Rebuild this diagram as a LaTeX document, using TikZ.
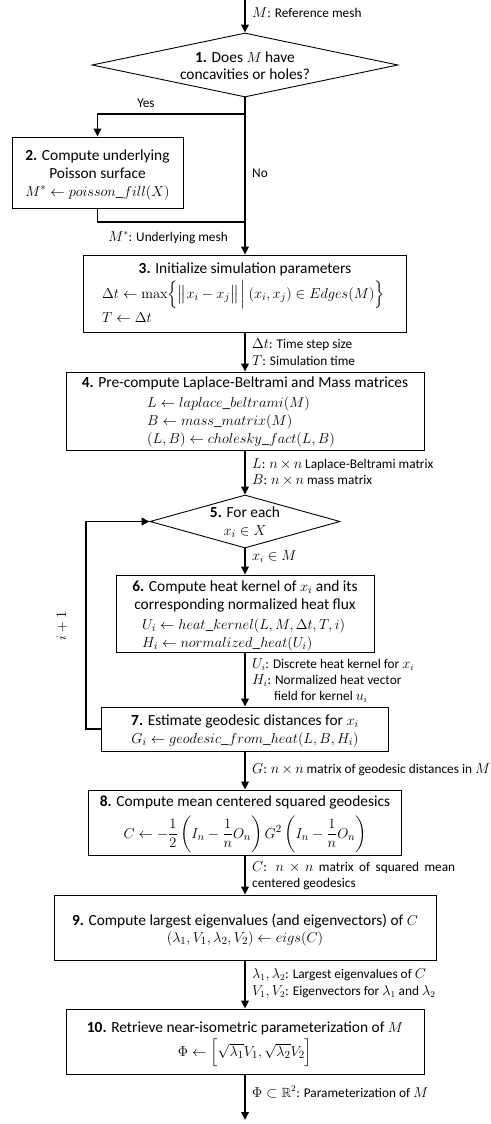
\documentclass[tikz,border=0pt]{standalone}
\usepackage{amsmath,amssymb}
\usepackage[no-math]{fontspec}
\setmainfont{Carlito}
\usetikzlibrary{arrows.meta,shapes.geometric}
\newcommand{\lblfont}{\fontsize{13.3}{16}\selectfont\medmuskip=3mu plus 2mu minus 2mu\relax}
\begin{document}
\begin{tikzpicture}[x=1pt,y=-1pt,
  box/.style={draw,line width=0.9pt,inner sep=0pt},
  dec/.style={draw,diamond,line width=0.9pt,inner sep=0pt},
  flow/.style={line width=1.7pt,-{Triangle[length=8pt,width=7.5pt]}},
  wire/.style={line width=1.7pt},
  mt/.style={inner sep=0pt,anchor=base,font=\fontsize{15.4}{18}\selectfont},
  ml/.style={mt,anchor=base west},
  lb/.style={inner sep=0pt,anchor=base west,font=\lblfont},
]
\useasboundingbox (0,0) rectangle (490,1124);
% shapes
\node[dec,minimum width=306pt,minimum height=64pt] (d1) at (245,65) {};
\node[box,minimum width=171pt,minimum height=71pt] (b2) at (97.5,172.5) {};
\node[box,minimum width=323pt,minimum height=77pt] (b3) at (245,293.5) {};
\node[box,minimum width=358pt,minimum height=78pt] (b4) at (245,411) {};
\node[dec,minimum width=190pt,minimum height=53pt] (d5) at (245,521.5) {};
\node[box,minimum width=258pt,minimum height=77pt] (b6) at (245,613.5) {};
\node[box,minimum width=287pt,minimum height=44pt] (b7) at (245,729) {};
\node[box,minimum width=313pt,minimum height=65pt] (b8) at (245,822.5) {};
\node[box,minimum width=382pt,minimum height=65pt] (b9) at (245,927.5) {};
\node[box,minimum width=358pt,minimum height=65pt] (b10) at (245,1041.5) {};
% connectors
\coordinate (in) at (245,0);
\coordinate (yes) at (245,114);
\coordinate (join) at (245,222);
\coordinate (lp) at (86,729);
\coordinate (out) at (245,1120);
\draw[flow] (in) -- (d1.north);
\draw[flow] (d1.south) -- (b3.north);
\draw[flow] (yes) -| (b2.north);
\draw[wire] (b2.south) |- (join);
\draw[flow] (b3.south) -- (b4.north);
\draw[flow] (b4.south) -- (d5.north);
\draw[flow] (d5.south) -- (b6.north);
\draw[flow] (b6.south) -- (b7.north);
\draw[flow] (b7.west) -- (lp) |- (d5.west);
\draw[flow] (b7.south) -- (b8.north);
\draw[flow] (b8.south) -- (b9.north);
\draw[flow] (b9.south) -- (b10.north);
\draw[flow] (b10.south) -- (out);
% texts
\node[lb] (t0) at (252,18) {$M$: Reference mesh};
\node[mt] (t1a) at (245,63) {\textbf{1.} Does $M$ have};
\node[mt] (t1b) at (245,80) {concavities or holes?};
\node[lb,anchor=base] (tyes) at (146,107) {Yes};
\node[mt] (t2a) at (97.5,160) {\textbf{2.} Compute underlying};
\node[mt] (t2b) at (97.5,178) {Poisson surface};
\node[mt] (t2c) at (97.5,196) {$M^{*}\leftarrow poisson\_fill(X)$};
\node[lb] (tno) at (252,177) {No};
\node[lb,anchor=base east] (tms) at (228,241) {$M^{*}$: Underlying mesh};
\node[mt] (t3a) at (245,273.5) {\textbf{3.} Initialize simulation parameters};
\node[ml] (t3b) at (102,298) {$\Delta t\leftarrow \max\Bigl\{\bigl\|x_i-x_j\bigr\|\,\Big|\,(x_i,x_j)\in Edges(M)\Bigr\}$};
\node[ml] (t3c) at (102,322) {$T\leftarrow\Delta t$};
\node[lb] (l3a) at (252,348) {$\Delta t$: Time step size};
\node[lb] (l3b) at (252,365) {$T$: Simulation time};
\node[mt] (t4a) at (245,387) {\textbf{4.} Pre-compute Laplace-Beltrami and Mass matrices};
\node[ml] (t4b) at (147,407) {$L\leftarrow laplace\_beltrami(M)$};
\node[ml] (t4c) at (147,425) {$B\leftarrow mass\_matrix(M)$};
\node[ml] (t4d) at (147,443) {$(L,B)\leftarrow cholesky\_fact(L,B)$};
\node[lb] (l4a) at (252,468) {$L$: $n\times n$ Laplace-Beltrami matrix};
\node[lb] (l4b) at (252,484) {$B$: $n\times n$ mass matrix};
\node[mt] (t5a) at (245,517) {\textbf{5.} For each};
\node[mt] (t5b) at (245,535) {$x_i\in X$};
\node[lb] (l5) at (252,560) {$x_i\in M$};
\node[mt] (t6a) at (245,591) {\textbf{6.} Compute heat kernel of $x_i$ and its};
\node[mt] (t6b) at (245,609) {corresponding normalized heat flux};
\node[ml] (t6c) at (142,629) {$U_i\leftarrow heat\_kernel(L,M,\Delta t,T,i)$};
\node[ml] (t6d) at (142,647) {$H_i\leftarrow normalized\_heat(U_i)$};
\node[lb] (l6a) at (252,668) {$U_i$: Discrete heat kernel for $x_i$};
\node[lb] (l6b) at (252,684) {$H_i$: Normalized heat vector};
\node[lb] (l6c) at (274,700) {field for kernel $u_i$};
\node[mt,anchor=center,rotate=90] (tloop) at (62,626) {$i+1$};
\node[mt] (t7a) at (245,725) {\textbf{7.} Estimate geodesic distances for $x_i$};
\node[mt] (t7b) at (245,743) {$G_i\leftarrow geodesic\_from\_heat(L,B,H_i)$};
\node[lb] (l7) at (252,773) {$G$: $n\times n$ matrix of geodesic distances in $M$};
\node[mt] (t8a) at (245,806) {\textbf{8.} Compute mean centered squared geodesics};
\node[mt] (t8b) at (245,838) {$C\leftarrow-\dfrac{1}{2}\left(I_n-\dfrac{1}{n}O_n\right)G^2\left(I_n-\dfrac{1}{n}O_n\right)$};
\node[lb] (l8a) at (252,871) {\makebox[203pt][s]{$C$: $n\times n$ matrix of squared mean}};
\node[lb] (l8b) at (252,887) {centered geodesics};
\node[mt] (t9a) at (245,925) {\textbf{9.} Compute largest eigenvalues (and eigenvectors) of $C$};
\node[mt] (t9b) at (245,942) {$(\lambda_1,V_1,\lambda_2,V_2)\leftarrow eigs(C)$};
\node[lb] (l9a) at (252,978) {$\lambda_1,\lambda_2$: Largest eigenvalues of $C$};
\node[lb] (l9b) at (252,995) {$V_1,V_2$: Eigenvectors for $\lambda_1$ and $\lambda_2$};
\node[mt] (t10a) at (245,1032) {\textbf{10.} Retrieve near-isometric parameterization of $M$};
\node[mt] (t10b) at (245,1056) {$\Phi\leftarrow\Bigl[\sqrt{\lambda_1}V_1,\sqrt{\lambda_2}V_2\Bigr]$};
\node[lb] (l10) at (252,1097) {$\Phi\subset\mathbb{R}^2$: Parameterization of $M$};
\end{tikzpicture}
\end{document}
